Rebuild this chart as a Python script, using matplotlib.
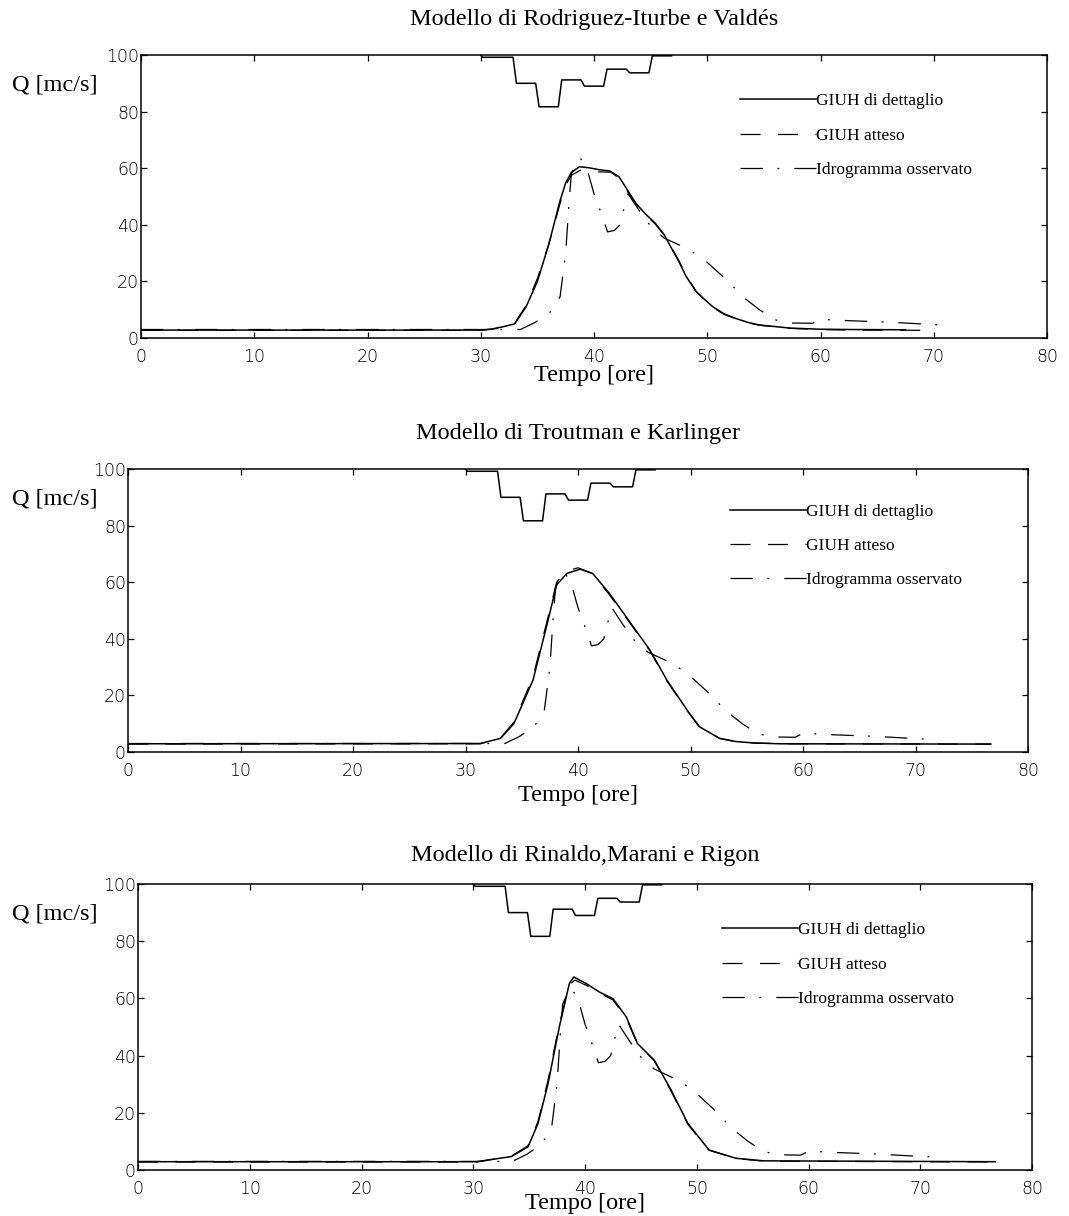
import numpy as np
import matplotlib
matplotlib.use("Agg")
import matplotlib.pyplot as plt

# ---------------------------------------------------------------------------
# data
# ---------------------------------------------------------------------------

titles = ["Modello di Rodriguez-Iturbe e Valdés",
          "Modello di Troutman e Karlinger",
          "Modello di Rinaldo,Marani e Rigon"]
labels = ["GIUH di dettaglio", "GIUH atteso", "Idrogramma osservato"]
x_ticks = [0, 10, 20, 30, 40, 50, 60, 70, 80]
y_ticks = [0, 20, 40, 60, 80, 100]

# observed hydrograph (same in all panels)
t_obs = [0, 33.5, 34.8, 36.1, 37.0, 37.5, 37.8, 38.0, 38.5, 38.8, 39.4, 40.0,
         40.6, 41.2, 41.8, 42.3, 42.6, 43.0, 44.0, 45.0, 46.2, 48.0, 49.5,
         52.0, 53.0, 54.6, 56.0, 57.5, 59.3, 60.0, 62.6, 66.0, 69.3, 71.3, 71.5]
q_obs = [3.0, 3.0, 5.5, 9.0, 14.5, 30, 48, 58, 62.5, 63.5, 59.5, 51,
         44.5, 37.5, 38, 40, 45, 51, 45, 39.5, 35.3, 32, 28.5,
         19.5, 15, 10, 6.4, 5.3, 5.2, 6.6, 6.1, 5.6, 4.9, 4.5, 3.8]

# rainfall (hyetograph hanging from the top of the axes)
rain_edges = [30, 33, 35, 37, 39, 41, 43, 45, 47]
rain_level = [99.2, 90, 81.7, 91.2, 89, 95, 93.7, 99.7]

# Rodriguez-Iturbe e Valdes
t_det1 = [0, 30, 31, 32, 33, 34, 35, 36, 37, 37.5, 38, 38.7, 39.5, 40.4, 41.4,
          42.2, 43, 43.7, 44.5, 45.4, 46.2, 46.8, 47.5, 48.1, 49, 49.8, 50.5,
          51.5, 52.6, 53.6, 54.6, 57.3, 60, 62.6, 67.5]
q_det1 = [2.8, 2.8, 3.2, 4.0, 5.0, 11, 20, 33, 48.5, 54.8, 58.5, 60.5, 60.2,
          59.5, 59, 57, 52, 47.6, 44, 40.6, 36.5, 32, 27, 22, 16.5, 13.5,
          11, 8.5, 6.8, 5.5, 4.6, 3.5, 3.1, 3.0, 2.9]
t_att1 = [0, 30, 31, 32, 33, 34, 35, 36, 37, 37.5, 38, 38.9, 39.5, 40.5, 41.5,
          42.2, 43, 43.7, 44.5, 45.4, 46.2, 46.8, 47.5, 48.1, 49, 49.8, 50.5,
          51.5, 52.6, 53.6, 54.6, 57.3, 60, 62.6, 70.3]
q_att1 = [2.7, 2.7, 3.1, 3.9, 5.2, 11.5, 21, 33, 47.5, 54, 57.5, 59.5, 58.8,
          58.7, 58.6, 56.5, 51.5, 47.3, 43.7, 40.3, 36.3, 32.3, 27.3, 22.5,
          16.5, 13.3, 10.8, 8.3, 6.7, 5.4, 4.5, 3.4, 3.0, 2.8, 2.7]

# Troutman e Karlinger
t_det2 = [0, 31.3, 33.1, 34.3, 36, 37.2, 38.1, 39, 40.2, 41.3, 42.8, 44.9,
          46.4, 47.9, 49.7, 50.8, 52.6, 54, 55.6, 58, 76.7]
q_det2 = [2.9, 3.0, 4.8, 10, 25.4, 44.3, 59, 63.1, 64.6, 63.1, 56, 44.3,
          36, 25.4, 14.8, 8.9, 4.8, 3.7, 3.2, 2.9, 2.8]
t_att2 = [0, 31.3, 33.1, 34.3, 36, 37.2, 38.1, 38.9, 40.0, 41.3, 42.8, 44.9,
          46.4, 47.9, 49.7, 50.8, 52.6, 54, 55.6, 58, 76.7]
q_att2 = [2.8, 2.9, 4.9, 10.5, 26.5, 45.5, 60, 63.8, 65.1, 63.0, 55.5, 44,
          35.7, 25.1, 14.6, 8.8, 4.8, 3.7, 3.2, 2.9, 2.8]

# Rinaldo, Marani e Rigon
t_det3 = [0, 30.3, 33.4, 34.9, 35.8, 36.7, 37.7, 38.6, 39, 40.1, 41.3, 42.5,
          43.7, 44.7, 46.2, 47.7, 49.2, 51.1, 53.5, 56, 76.7]
q_det3 = [2.9, 2.9, 4.7, 8.1, 16.3, 30.3, 50, 65.2, 67.5, 65.2, 62.2, 59.9,
          53.5, 44.2, 38.4, 28, 16.3, 7, 4.1, 3.2, 2.9]
t_att3 = [0, 30.3, 33.4, 34.9, 35.8, 36.7, 37.7, 38.6, 39.1, 40.1, 41.3, 42.5,
          43.7, 44.7, 46.2, 47.7, 49.2, 51.1, 53.5, 56, 76.7]
q_att3 = [2.8, 2.8, 4.8, 8.5, 17, 31.5, 51, 64.8, 66.4, 64.6, 61.8, 59.5,
          53, 44, 38.2, 27.6, 16, 6.9, 4.0, 3.1, 2.8]

models = [(t_det1, q_det1, t_att1, q_att1),
          (t_det2, q_det2, t_att2, q_att2),
          (t_det3, q_det3, t_att3, q_att3)]

# ---------------------------------------------------------------------------
# layout (pixels of the 1069x1216 reference)
# ---------------------------------------------------------------------------

W, H = 1069, 1216
boxes = [(141, 1047, 55, 338), (128, 1028, 469, 752), (138, 1032, 884, 1170)]
title_y = [20, 433, 856]
xlabel_y = [376, 796, 1203]
legend_xy = [(0.661, 0.865), (0.669, 0.878), (0.653, 0.866)]

serif = ["Liberation Serif", "DejaVu Serif"]
big = 17.5
dash_att = (0, (16, 14))
dash_obs = (0, (18, 11.5, 1.5, 12))


def rain_line(edges, levels, slant=0.15):
    xs, ys = [], []
    for i, lev in enumerate(levels):
        xs += [edges[i] + slant, edges[i + 1] - slant]
        ys += [lev, lev]
    return [edges[0]] + xs, [100] + ys


fig = plt.figure(figsize=(W / 100, H / 100), dpi=100)

for k, (l, r, top, bot) in enumerate(boxes):
    ax = fig.add_axes([l / W, 1 - bot / H, (r - l) / W, (bot - top) / H])
    t_det, q_det, t_att, q_att = models[k]

    rx, ry = rain_line(rain_edges, rain_level)
    ax.plot(rx, ry, color="black", lw=1.1)
    ax.plot(t_obs, q_obs, color="black", lw=0.9, linestyle=dash_obs,
            label=labels[2])
    ax.plot(t_att, q_att, color="black", lw=0.9, linestyle=dash_att,
            label=labels[1])
    ax.plot(t_det, q_det, color="black", lw=1.1, label=labels[0])

    ax.set_xlim(0, 80)
    ax.set_ylim(0, 100)
    ax.set_xticks(x_ticks)
    ax.set_yticks(y_ticks)
    ax.tick_params(direction="in", length=4.5, width=0.9, top=True,
                   right=True, labelsize=12.5, pad=1.5)
    ax.tick_params(axis="x", pad=7)
    for lab in ax.get_xticklabels() + ax.get_yticklabels():
        lab.set_fontweight("light")
    for sp in ax.spines.values():
        sp.set_linewidth(1.1)

    h, lb = ax.get_legend_handles_labels()
    ax.legend(h[::-1], lb[::-1], loc="upper left",
              bbox_to_anchor=legend_xy[k], frameon=False, borderpad=0,
              borderaxespad=0, handlelength=4.4, handletextpad=0,
              labelspacing=1.05, prop={"family": serif, "size": 12.5})

    cx = (l + r) / 2 / W
    fig.text(cx, 1 - title_y[k] / H, titles[k], ha="center", va="center",
             family=serif, fontsize=big)
    fig.text(cx, 1 - xlabel_y[k] / H, "Tempo [ore]", ha="center",
             va="center", family=serif, fontsize=big)
    fig.text(55 / W, 1 - (top + 30) / H, "Q [mc/s]", ha="center",
             va="center", family=serif, fontsize=big)

fig.savefig("out.png", dpi=100)
